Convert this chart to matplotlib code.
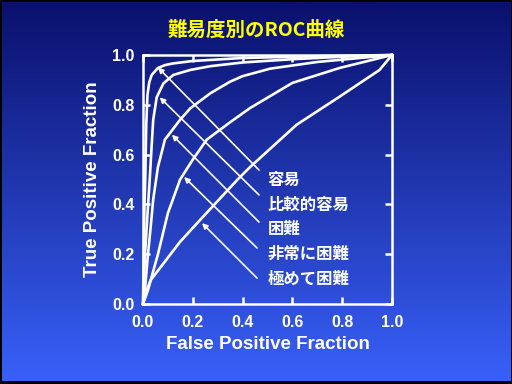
import matplotlib
matplotlib.use("Agg")
import matplotlib.pyplot as plt
import numpy as np

# Datos (FPF, TPF) para cada curva ROC
fpf_c1 = [0.0, 0.003, 0.006, 0.009, 0.013, 0.018, 0.025, 0.035, 0.06, 0.09, 0.12, 0.2, 0.4, 0.7, 1.0]
tpf_c1 = [0.0, 0.2, 0.4, 0.5, 0.72, 0.84, 0.89, 0.92, 0.948, 0.96, 0.966, 0.976, 0.988, 0.995, 1.0]

fpf_c2 = [0.0, 0.008, 0.018, 0.027, 0.035, 0.041, 0.055, 0.082, 0.122, 0.19, 0.27, 0.4, 0.6, 0.8, 1.0]
tpf_c2 = [0.0, 0.2, 0.36, 0.5, 0.64, 0.74, 0.83, 0.886, 0.92, 0.94, 0.955, 0.97, 0.983, 0.993, 1.0]

fpf_c3 = [0.0, 0.007, 0.02, 0.03, 0.041, 0.06, 0.088, 0.149, 0.19, 0.27, 0.35, 0.40, 0.51, 0.7, 1.0]
tpf_c3 = [0.0, 0.05, 0.2, 0.3, 0.42, 0.55, 0.66, 0.74, 0.786, 0.846, 0.893, 0.915, 0.945, 0.972, 1.0]

fpf_c4 = [0.0, 0.02, 0.06, 0.1, 0.149, 0.2, 0.256, 0.35, 0.43, 0.6, 0.79, 1.0]
tpf_c4 = [0.0, 0.056, 0.2, 0.365, 0.5, 0.58, 0.66, 0.73, 0.787, 0.888, 0.948, 1.0]

fpf_c5 = [0.0, 0.008, 0.03, 0.08, 0.149, 0.25, 0.38, 0.43, 0.617, 0.79, 0.95, 1.0]
tpf_c5 = [0.0, 0.035, 0.095, 0.16, 0.25, 0.36, 0.5, 0.55, 0.72, 0.833, 0.94, 1.0]

etiquetas = ['容易', '比較的容易', '困難', '非常に困難', '極めて困難']
etiqueta_y = [0.5, 0.4, 0.3, 0.2, 0.1]
# puntas de las flechas sobre cada curva
punta_x = [0.06, 0.067, 0.116, 0.165, 0.237]
punta_y = [0.95, 0.83, 0.68, 0.51, 0.325]
# colas de las flechas junto al texto
cola_x = [0.466, 0.466, 0.466, 0.458, 0.458]
cola_y = [0.538, 0.438, 0.329, 0.225, 0.104]

ticks = [0.0, 0.2, 0.4, 0.6, 0.8, 1.0]

fig = plt.figure(figsize=(5.12, 3.84), dpi=100, facecolor='black')

# Fondo degradado azul
bg = fig.add_axes([2 / 512, 3 / 384, 509 / 512, 379 / 384])
grad = np.linspace(0, 1, 256).reshape(-1, 1)
c_top = np.array([10, 16, 108]) / 255
c_bot = np.array([56, 96, 248]) / 255
img = c_top + (c_bot - c_top) * grad[:, :, None]
bg.imshow(img, aspect='auto', extent=[0, 1, 0, 1], origin='upper')
bg.axis('off')

ax = fig.add_axes([143 / 512, 80 / 384, 249 / 512, 249 / 384])
ax.set_facecolor('none')

for fx, ty in [(fpf_c1, tpf_c1), (fpf_c2, tpf_c2), (fpf_c3, tpf_c3), (fpf_c4, tpf_c4), (fpf_c5, tpf_c5)]:
    ax.plot(fx, ty, color='white', linewidth=1.9, solid_joinstyle='round', clip_on=False)

for i in range(len(etiquetas)):
    ax.annotate('', xy=(punta_x[i], punta_y[i]), xytext=(cola_x[i], cola_y[i]),
                arrowprops=dict(arrowstyle='-|>', color='white', lw=1.2,
                                mutation_scale=8, shrinkA=0, shrinkB=0))
    ax.text(0.5, etiqueta_y[i], etiquetas[i], color='white', fontsize=11.8,
            fontweight='bold', family=['Noto Sans CJK JP', 'DejaVu Sans'],
            ha='left', va='center')

ax.set_xlim(0, 1)
ax.set_ylim(0, 1)
ax.set_xticks(ticks)
ax.set_yticks(ticks)
ax.set_xticklabels(['%.1f' % t for t in ticks])
ax.set_yticklabels(['%.1f' % t for t in ticks])
ax.tick_params(direction='in', length=5, width=1.8, colors='white',
               top=True, right=True, labelsize=11.5)
ax.tick_params(axis='x', pad=8)
ax.tick_params(axis='y', pad=6)
for lab in ax.get_xticklabels() + ax.get_yticklabels():
    lab.set_family('Liberation Sans')
    lab.set_fontweight('bold')
for s in ax.spines.values():
    s.set_color('white')
    s.set_linewidth(1.8)

ax.set_xlabel('False Positive Fraction', color='white', fontsize=13.5,
              fontweight='bold', family='Liberation Sans', labelpad=4)
ax.set_ylabel('True Positive Fraction', color='white', fontsize=13.5,
              fontweight='bold', family='Liberation Sans', labelpad=8)

fig.text(0.5, 1 - 30 / 384, '難易度別のROC曲線', color='#ffff00', fontsize=14,
         fontweight='bold', family=['Noto Sans CJK JP', 'DejaVu Sans'],
         ha='center', va='center')

fig.savefig('out.png', dpi=100, facecolor='black')
